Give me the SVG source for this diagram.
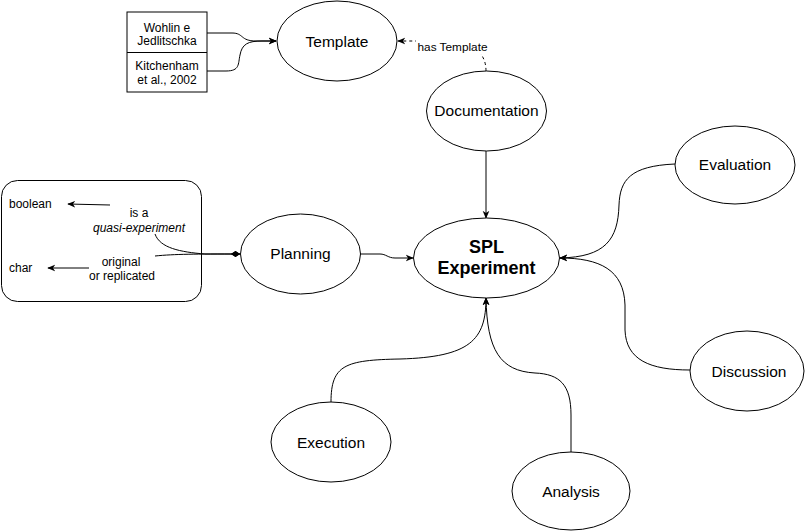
<svg xmlns="http://www.w3.org/2000/svg" width="809" height="531" viewBox="0 0 809 531">
<style>
  .shape { fill: #ffffff; stroke: #000000; stroke-width: 1; }
  .edge { fill: none; stroke: #000000; stroke-width: 1; }
  .dashed { stroke-dasharray: 3 3; }
  text { font-family: "Liberation Sans", Arial, Helvetica, sans-serif; fill: #000000; text-anchor: middle; dominant-baseline: central; }
  .node { font-size: 15.5px; }
  .small { font-size: 12px; }
  .label { font-size: 11.8px; }
  .bold { font-size: 18px; font-weight: bold; }
  .left { text-anchor: start; }
</style>
<defs>
  <marker id="arrow" viewBox="0 0 10 10" refX="9" refY="5" markerWidth="8" markerHeight="8" markerUnits="userSpaceOnUse" orient="auto">
    <path d="M0,0.8 L10,5 L0,9.2 L2.8,5 Z" fill="#000000" stroke="none"/>
  </marker>
  <marker id="diamond" viewBox="0 0 10 10" refX="10" refY="5" markerWidth="9" markerHeight="9" markerUnits="userSpaceOnUse" orient="auto">
    <path d="M0,5 L5,1.8 L10,5 L5,8.2 Z" fill="#000000" stroke="none"/>
  </marker>
</defs>
<rect width="809" height="531" fill="#ffffff"/>

<g id="node-attributes">
  <rect class="shape" x="1.5" y="180.5" width="200" height="121" rx="16" ry="16"/>
  <text class="small left" x="9" y="204">boolean</text>
  <text class="small" x="139" y="213">is a</text>
  <text class="small" x="139" y="227.5" font-style="italic">quasi-experiment</text>
  <text class="small left" x="9" y="268">char</text>
  <text class="small" x="121" y="262">original</text>
  <text class="small" x="122" y="276">or replicated</text>
</g>

<g id="connectors">
  <path class="edge" d="M207,33 L232,33 C244,33 240,41 256,41 L276,41" marker-end="url(#arrow)"/>
  <path class="edge" d="M207,71 L226,71 C240,71 238,64 240,55 C242,44 248,41 262,41 L276,41" marker-end="url(#arrow)"/>
  <path class="edge dashed" d="M486,71 Q486,41 441,41 L398,41" marker-end="url(#arrow)"/>
  <path class="edge" d="M486,151 L486,218" marker-end="url(#arrow)"/>
  <path class="edge" d="M360,254 L380,254 C386,254 388,258 395,258 L413,258" marker-end="url(#arrow)"/>
  <path class="edge" d="M675,164 C630,166 620,180 619,205 C618,240 605,257 560,258" marker-end="url(#arrow)"/>
  <path class="edge" d="M690,370 C650,370 626,360 625,330 L625,305 C624,270 600,258 560,258" marker-end="url(#arrow)"/>
  <path class="edge" d="M331,402 C331,365 345,360 400,359 C470,357 486,340 486,298" marker-end="url(#arrow)"/>
  <path class="edge" d="M571,452 L571,415 C571,385 560,374 535,373 C500,371 487,350 486,298" marker-end="url(#arrow)"/>
  <path class="edge" d="M110,205 L68,204" marker-end="url(#arrow)"/>
  <path class="edge" d="M89,268 L48,268" marker-end="url(#arrow)"/>
  <path class="edge" d="M155,234 C160,248 180,252 205,254 L240,254" marker-end="url(#diamond)"/>
  <path class="edge" d="M155,256 C175,254 195,254 240,254" marker-end="url(#diamond)"/>
  <g id="label-has-template">
    <rect x="416" y="40" width="73" height="14" fill="#ffffff"/>
    <text class="label" x="452.5" y="46.5">has Template</text>
  </g>
</g>

<g id="node-references">
  <rect class="shape" x="127" y="12" width="80" height="80"/>
  <line class="edge" x1="127" y1="52.5" x2="207" y2="52.5"/>
  <text class="small" x="167" y="28">Wohlin e</text>
  <text class="small" x="167" y="41">Jedlitschka</text>
  <text class="small" x="167" y="66">Kitchenham</text>
  <text class="small" x="167" y="80">et al., 2002</text>
</g>

<g id="node-template">
  <ellipse class="shape" cx="337" cy="41" rx="60" ry="40"/>
  <text class="node" x="337" y="41">Template</text>
</g>

<g id="node-documentation">
  <ellipse class="shape" cx="486.5" cy="111" rx="60" ry="40"/>
  <text class="node" x="486.5" y="110">Documentation</text>
</g>

<g id="node-planning">
  <ellipse class="shape" cx="300.5" cy="254" rx="60" ry="40"/>
  <text class="node" x="300.5" y="253">Planning</text>
</g>

<g id="node-spl-experiment">
  <ellipse class="shape" cx="486.5" cy="258" rx="73" ry="40"/>
  <text class="bold" x="486.5" y="247">SPL</text>
  <text class="bold" x="486.5" y="268">Experiment</text>
</g>

<g id="node-evaluation">
  <ellipse class="shape" cx="735" cy="165" rx="60" ry="39"/>
  <text class="node" x="735" y="164">Evaluation</text>
</g>

<g id="node-discussion">
  <ellipse class="shape" cx="747" cy="371" rx="57" ry="40"/>
  <text class="node" x="749" y="371">Discussion</text>
</g>

<g id="node-execution">
  <ellipse class="shape" cx="331" cy="442" rx="60" ry="40"/>
  <text class="node" x="331" y="442">Execution</text>
</g>

<g id="node-analysis">
  <ellipse class="shape" cx="571" cy="491" rx="59" ry="39"/>
  <text class="node" x="571" y="491">Analysis</text>
</g>
</svg>
